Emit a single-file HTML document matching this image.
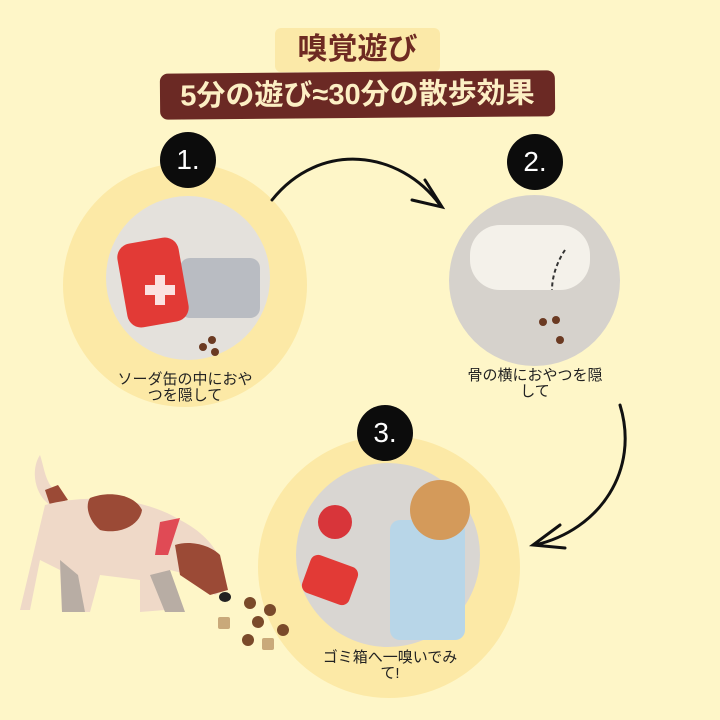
<!DOCTYPE html>
<html><head><meta charset="utf-8"><style>
body{margin:0;width:720px;height:720px;background:#fef6c8;position:relative;overflow:hidden;font-family:"Liberation Sans","Noto Sans CJK JP",sans-serif}
.a{position:absolute}
.c{position:absolute;border-radius:50%}
.b{position:absolute;width:56px;height:56px;border-radius:50%;background:#0c0c0c;color:#fff;font-size:28px;text-align:center;line-height:56px}
.t{position:absolute;font-size:15px;color:#222;text-align:center;line-height:16px}
</style></head><body>
<div class="a" style="left:275px;top:28px;width:165px;height:44px;background:#fbe9a8;border-radius:6px;color:#6e2a22;font-size:30px;font-weight:bold;text-align:center;line-height:44px">嗅覚遊び</div>
<div class="a" style="left:160px;top:72px;width:395px;height:46px;background:#6b2924;border-radius:8px;color:#fcefc4;font-size:29px;font-weight:bold;text-align:center;line-height:46px;transform:rotate(-0.5deg)">5分の遊び≈30分の散歩効果</div>

<div class="c" style="left:63px;top:163px;width:244px;height:244px;background:#fce9a6"></div>
<div class="c" style="left:106px;top:196px;width:164px;height:164px;background:#e4e1dc"></div>
<div class="a" style="left:180px;top:258px;width:80px;height:60px;background:#b9bcc2;border-radius:10px"></div>
<div class="a" style="left:122px;top:240px;width:62px;height:85px;background:#e23a36;border-radius:14px;transform:rotate(-10deg)"></div>
<div class="b" style="left:160px;top:132px">1.</div>
<div class="t" style="left:95px;top:372px;width:180px">ソーダ缶の中におや<br>つを隠して</div>

<div class="c" style="left:449px;top:195px;width:171px;height:171px;background:#d6d2cc"></div>
<div class="a" style="left:470px;top:225px;width:120px;height:65px;background:#f4f1ea;border-radius:30px"></div>
<div class="b" style="left:507px;top:134px">2.</div>
<div class="t" style="left:440px;top:368px;width:190px">骨の横におやつを隠<br>して</div>

<div class="c" style="left:258px;top:436px;width:262px;height:262px;background:#fce9a6"></div>
<div class="c" style="left:296px;top:463px;width:184px;height:184px;background:#d9d6d2"></div>
<div class="a" style="left:390px;top:520px;width:75px;height:120px;background:#b8d6e8;border-radius:10px"></div>
<div class="a" style="left:410px;top:480px;width:60px;height:60px;background:#d49a5a;border-radius:50%"></div>
<div class="a" style="left:305px;top:560px;width:50px;height:40px;background:#e23a36;border-radius:8px;transform:rotate(20deg)"></div>
<div class="a" style="left:318px;top:505px;width:34px;height:34px;background:#d8353a;border-radius:50%"></div>
<div class="b" style="left:357px;top:405px">3.</div>
<div class="t" style="left:300px;top:650px;width:180px">ゴミ箱へ一嗅いでみ<br>て!</div>

<svg class="a" style="left:0;top:0" width="720" height="720">
<g fill="none" stroke="#111" stroke-width="3" stroke-linecap="round">
<path d="M272 200 C320 140 400 150 440 205"/>
<path d="M425 180 L442 207 L412 200"/>
<path d="M620 405 C640 470 600 530 535 545"/>
<path d="M560 525 L533 545 L565 548"/>
</g>
<g fill="#fff" opacity="0.85"><path d="M145 285 h10 v-10 h10 v10 h10 v10 h-10 v10 h-10 v-10 h-10z"/></g>
<path d="M565 250 C555 265 552 280 552 290" stroke="#333" stroke-width="2" stroke-dasharray="4 3" fill="none"/>
<g>
<path d="M40 455 C30 470 35 495 50 505 L60 495 C45 485 45 470 40 455Z" fill="#efd9c8"/>
<path d="M45 490 L50 505 L68 500 L58 485Z" fill="#9b4a36"/>
<path d="M45 505 C80 495 140 495 180 520 C200 530 215 545 220 560 L225 590 L215 595 L190 575 L170 570 L165 610 L140 612 L140 580 L100 575 L90 612 L62 612 L60 570 L40 560 L30 610 L20 610 Z" fill="#efd9c8"/>
<path d="M90 498 C110 490 135 495 142 510 C140 525 120 535 100 530 C88 520 85 505 90 498Z" fill="#9b4a36"/>
<path d="M60 560 L62 612 L85 612 L78 575 Z" fill="#b8ada4"/>
<path d="M150 575 L165 612 L185 612 L170 570Z" fill="#b8ada4"/>
<path d="M160 522 L180 518 L168 555 L155 555Z" fill="#e04a55"/>
<path d="M175 545 C190 540 210 545 220 555 L228 590 L210 595 L180 575Z" fill="#9b4a36"/>
<ellipse cx="225" cy="597" rx="6" ry="5" fill="#222"/>
<g fill="#7a4a2a"><circle cx="250" cy="603" r="6"/><circle cx="270" cy="610" r="6"/><circle cx="258" cy="622" r="6"/><circle cx="283" cy="630" r="6"/><circle cx="248" cy="640" r="6"/></g>
<g fill="#c9a97a"><rect x="218" y="617" width="12" height="12" rx="2"/><rect x="262" y="638" width="12" height="12" rx="2"/></g>
<g fill="#6b3a22"><circle cx="212" cy="340" r="4"/><circle cx="203" cy="347" r="4"/><circle cx="215" cy="352" r="4"/><circle cx="543" cy="322" r="4"/><circle cx="556" cy="320" r="4"/><circle cx="560" cy="340" r="4"/></g>
</g>
</svg>
</body></html>
